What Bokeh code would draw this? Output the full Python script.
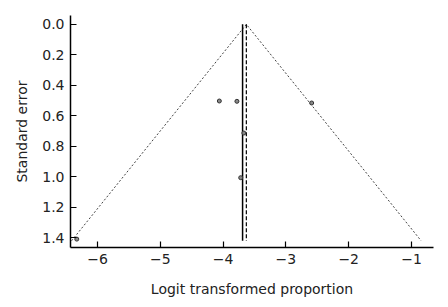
from bokeh.plotting import figure
from bokeh.models import Range1d, FixedTicker, NumeralTickFormatter
from bokeh.embed import file_html
from bokeh.resources import INLINE

# Study estimates
logit_prop = [-4.06, -3.78, -3.67, -3.72, -2.59, -6.33]
std_err = [0.503, 0.505, 0.713, 1.006, 0.516, 1.409]

# Pooled estimates
pooled_fixed = -3.69
pooled_random = -3.63
se_max = 1.42

x_ticks = [-6, -5, -4, -3, -2, -1]
y_ticks = [0.0, 0.2, 0.4, 0.6, 0.8, 1.0, 1.2, 1.4]

p = figure(width=440, height=299, output_backend="svg", toolbar_location=None,
           x_range=Range1d(-6.43, -0.65), y_range=Range1d(1.464, -0.058),
           min_border_left=70, min_border_right=7, min_border_top=15, min_border_bottom=47)
p.outline_line_color = None
p.xgrid.visible = False
p.ygrid.visible = False

# Funnel (pseudo 95% CI)
fx = [pooled_random - 1.96 * se_max, pooled_random, pooled_random + 1.96 * se_max]
fy = [se_max, 0.0, se_max]
p.line(fx, fy, line_color="#444444", line_width=1, line_dash="2 2")

# Pooled lines
p.line([pooled_fixed, pooled_fixed], [0.0, se_max], line_color="black", line_width=1.5)
p.line([pooled_random, pooled_random], [0.0, se_max], line_color="black", line_width=1.2, line_dash="4 2")

p.scatter(logit_prop, std_err, size=4, marker="circle", line_color="#333333",
          fill_color="#888888", line_width=1)

font = "DejaVu Sans"
for ax in (p.xaxis[0], p.yaxis[0]):
    ax.major_tick_in = 6
    ax.major_tick_out = 0
    ax.minor_tick_in = 0
    ax.minor_tick_out = 0
    ax.axis_line_color = "black"
    ax.axis_line_width = 1.5
    ax.major_tick_line_width = 1.2
    ax.major_label_text_font = font
    ax.major_label_text_font_size = "14px"
    ax.major_label_text_color = "#222222"
    ax.axis_label_text_font = font
    ax.axis_label_text_font_size = "14px"
    ax.axis_label_text_font_style = "normal"
    ax.axis_label_text_color = "#222222"

p.xaxis.ticker = FixedTicker(ticks=x_ticks)
p.yaxis.ticker = FixedTicker(ticks=y_ticks)
p.yaxis.formatter = NumeralTickFormatter(format="0.0")
p.xaxis.axis_label = "Logit transformed proportion"
p.yaxis.axis_label = "Standard error"
p.xaxis.major_label_standoff = 6
p.yaxis.major_label_standoff = 6
p.xaxis.axis_label_standoff = 14
p.yaxis.axis_label_standoff = 9

open("out.html", "w").write(file_html(p, INLINE))
